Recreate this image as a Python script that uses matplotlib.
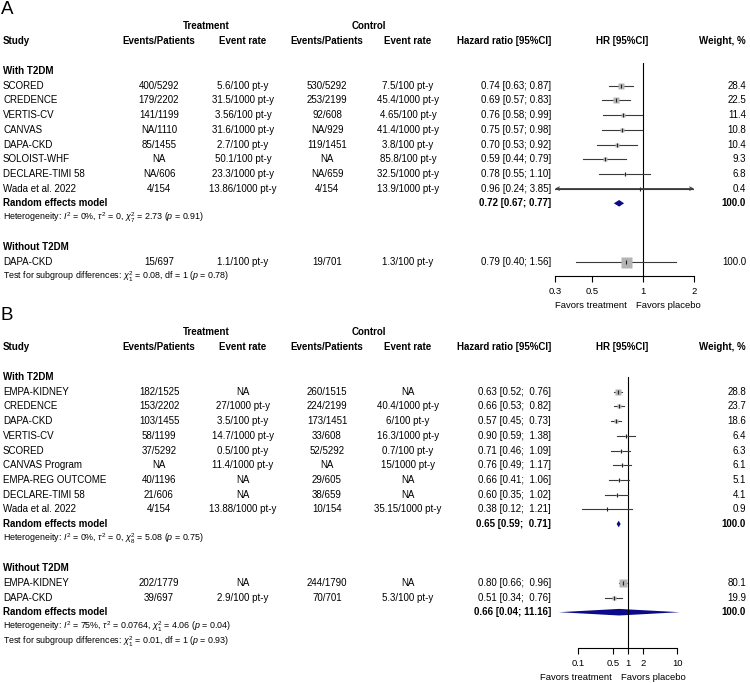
import numpy as np
import matplotlib
matplotlib.use("Agg")
import matplotlib.pyplot as plt
from matplotlib.ticker import NullLocator

plt.rcParams["font.family"] = ["Liberation Sans", "DejaVu Sans"]
plt.rcParams["mathtext.fontset"] = "custom"
plt.rcParams["mathtext.rm"] = "Liberation Sans"
plt.rcParams["mathtext.it"] = "Liberation Sans:italic"
plt.rcParams["mathtext.bf"] = "Liberation Sans:bold"

W, H = 750, 683

# ---- panel A : with T2DM ----
a1_study = ["SCORED", "CREDENCE", "VERTIS-CV", "CANVAS", "DAPA-CKD",
            "SOLOIST-WHF", "DECLARE-TIMI 58", "Wada et al. 2022"]
a1_trt_ep = ["400/5292", "179/2202", "141/1199", "NA/1110", "85/1455", "NA", "NA/606", "4/154"]
a1_trt_rate = ["5.6/100 pt-y", "31.5/1000 pt-y", "3.56/100 pt-y", "31.6/1000 pt-y",
               "2.7/100 pt-y", "50.1/100 pt-y", "23.3/1000 pt-y", "13.86/1000 pt-y"]
a1_ctl_ep = ["530/5292", "253/2199", "92/608", "NA/929", "119/1451", "NA", "NA/659", "4/154"]
a1_ctl_rate = ["7.5/100 pt-y", "45.4/1000 pt-y", "4.65/100 pt-y", "41.4/1000 pt-y",
               "3.8/100 pt-y", "85.8/100 pt-y", "32.5/1000 pt-y", "13.9/1000 pt-y"]
a1_hr = [0.74, 0.69, 0.76, 0.75, 0.70, 0.59, 0.78, 0.96]
a1_lo = [0.63, 0.57, 0.58, 0.57, 0.53, 0.44, 0.55, 0.24]
a1_hi = [0.87, 0.83, 0.99, 0.98, 0.92, 0.79, 1.10, 3.85]
a1_wt = [28.4, 22.5, 11.4, 10.8, 10.4, 9.3, 6.8, 0.4]
a1_pool = (0.72, 0.67, 0.77)
a1_het = r"Heterogeneity: $I^2$ = 0%, $\tau^2$ = 0, $\chi^2_7$ = 2.73 ($p$ = 0.91)"

# ---- panel A : without T2DM ----
a2_study = ["DAPA-CKD"]
a2_trt_ep = ["15/697"]
a2_trt_rate = ["1.1/100 pt-y"]
a2_ctl_ep = ["19/701"]
a2_ctl_rate = ["1.3/100 pt-y"]
a2_hr = [0.79]
a2_lo = [0.40]
a2_hi = [1.56]
a2_wt = [100.0]
a_test = r"Test for subgroup differences: $\chi^2_1$ = 0.08, df = 1 ($p$ = 0.78)"
a_ticks = [0.3, 0.5, 1, 2]
a_ticklabels = ["0.3", "0.5", "1", "2"]

# ---- panel B : with T2DM ----
b1_study = ["EMPA-KIDNEY", "CREDENCE", "DAPA-CKD", "VERTIS-CV", "SCORED",
            "CANVAS Program", "EMPA-REG OUTCOME", "DECLARE-TIMI 58", "Wada et al. 2022"]
b1_trt_ep = ["182/1525", "153/2202", "103/1455", "58/1199", "37/5292", "NA", "40/1196", "21/606", "4/154"]
b1_trt_rate = ["NA", "27/1000 pt-y", "3.5/100 pt-y", "14.7/1000 pt-y", "0.5/100 pt-y",
               "11.4/1000 pt-y", "NA", "NA", "13.88/1000 pt-y"]
b1_ctl_ep = ["260/1515", "224/2199", "173/1451", "33/608", "52/5292", "NA", "29/605", "38/659", "10/154"]
b1_ctl_rate = ["NA", "40.4/1000 pt-y", "6/100 pt-y", "16.3/1000 pt-y", "0.7/100 pt-y",
               "15/1000 pt-y", "NA", "NA", "35.15/1000 pt-y"]
b1_hr = [0.63, 0.66, 0.57, 0.90, 0.71, 0.76, 0.66, 0.60, 0.38]
b1_lo = [0.52, 0.53, 0.45, 0.59, 0.46, 0.49, 0.41, 0.35, 0.12]
b1_hi = [0.76, 0.82, 0.73, 1.38, 1.09, 1.17, 1.06, 1.02, 1.21]
b1_wt = [28.8, 23.7, 18.6, 6.4, 6.3, 6.1, 5.1, 4.1, 0.9]
b1_pool = (0.65, 0.59, 0.71)
b1_het = r"Heterogeneity: $I^2$ = 0%, $\tau^2$ = 0, $\chi^2_8$ = 5.08 ($p$ = 0.75)"

# ---- panel B : without T2DM ----
b2_study = ["EMPA-KIDNEY", "DAPA-CKD"]
b2_trt_ep = ["202/1779", "39/697"]
b2_trt_rate = ["NA", "2.9/100 pt-y"]
b2_ctl_ep = ["244/1790", "70/701"]
b2_ctl_rate = ["NA", "5.3/100 pt-y"]
b2_hr = [0.80, 0.51]
b2_lo = [0.66, 0.34]
b2_hi = [0.96, 0.76]
b2_wt = [80.1, 19.9]
b2_pool = (0.66, 0.04, 11.16)
b2_het = r"Heterogeneity: $I^2$ = 75%, $\tau^2$ = 0.0764, $\chi^2_1$ = 4.06 ($p$ = 0.04)"
b_test = r"Test for subgroup differences: $\chi^2_1$ = 0.01, df = 1 ($p$ = 0.93)"
b_ticks = [0.1, 0.5, 1, 2, 10]
b_ticklabels = ["0.1", "0.5", "1", "2", "10"]

# layout (pixels)
X_STUDY, X_TRT_EP, X_TRT_RATE, X_CTL_EP, X_CTL_RATE = 3, 159, 243, 327, 408
X_HR, X_FOREST, X_WT = 551, 622, 746
X_TRT_GRP, X_CTL_GRP = 206, 369
STEP = 14.7
FS, FS_SMALL = 7.0, 6.4
NAVY = "#0b0b8a"

fig = plt.figure(figsize=(W / 100, H / 100), dpi=100)
ax = fig.add_axes([0, 0, 1, 1])
ax.set_xlim(0, W)
ax.set_ylim(H, 0)
ax.axis("off")


def forest_axes(x0, x1, y0, y1, xlim, ticks, labels):
    f = fig.add_axes([x0 / W, 1 - y1 / H, (x1 - x0) / W, (y1 - y0) / H])
    f.set_xscale("log")
    f.set_xlim(*xlim)
    f.set_ylim(y1, y0)
    f.patch.set_alpha(0)
    for s in ["top", "left", "right"]:
        f.spines[s].set_visible(False)
    f.spines["bottom"].set_bounds(ticks[0], ticks[-1])
    f.spines["bottom"].set_linewidth(0.8)
    f.set_xticks(ticks)
    f.set_xticklabels(labels)
    f.xaxis.set_minor_locator(NullLocator())
    f.tick_params(axis="x", length=4.5, width=0.8, pad=3.5, labelsize=6.8)
    f.set_yticks([])
    f.axvline(1, color="black", lw=0.8)
    return f


def study_rows(f, y, study, tep, trate, cep, crate, hr, lo, hi, wt, box, wide):
    for i in range(len(study)):
        yy = y + i * STEP
        ax.text(X_STUDY, yy, study[i], fontsize=FS, va="center")
        ax.text(X_TRT_EP, yy, tep[i], fontsize=FS, va="center", ha="center")
        ax.text(X_TRT_RATE, yy, trate[i], fontsize=FS, va="center", ha="center")
        ax.text(X_CTL_EP, yy, cep[i], fontsize=FS, va="center", ha="center")
        ax.text(X_CTL_RATE, yy, crate[i], fontsize=FS, va="center", ha="center")
        hi_s = f"{hi[i]:5.2f}" if wide else f"{hi[i]:.2f}"
        ax.text(X_HR, yy, f"{hr[i]:.2f} [{lo[i]:.2f}; {hi_s}]",
                fontsize=FS, va="center", ha="right")
        ax.text(X_WT, yy, f"{wt[i]:.1f}", fontsize=FS, va="center", ha="right")
        xl, xr = f.get_xlim()
        l, r = max(lo[i], xl), min(hi[i], xr)
        f.plot([l, r], [yy, yy], color="#3a3a3a", lw=0.8)
        for end, edge in [(lo[i] < xl, xl), (hi[i] > xr, xr)]:
            if end:
                f.annotate("", xy=(edge, yy), xytext=(hr[i], yy),
                           arrowprops=dict(arrowstyle="->", color="#3a3a3a", lw=0.7,
                                           mutation_scale=6, shrinkA=0, shrinkB=0))
        side = box * np.sqrt(wt[i] / 100.0)
        f.plot(hr[i], yy, marker="s", ms=side * 0.72, color="#b4b4b4", mec="none")
        f.plot(hr[i], yy, marker="|", ms=3.0, color="#222222", mew=0.8)
    return y + len(study) * STEP


def pooled(f, yy, est, lo, hi, wide):
    hi_s = f"{hi:5.2f}" if wide else f"{hi:.2f}"
    ax.text(X_STUDY, yy, "Random effects model", fontsize=FS, va="center", weight="bold")
    ax.text(X_HR, yy, f"{est:.2f} [{lo:.2f}; {hi_s}]", fontsize=FS, va="center",
            ha="right", weight="bold")
    ax.text(X_WT, yy, "100.0", fontsize=FS, va="center", ha="right", weight="bold")
    h = 3.3
    f.fill([lo, est, hi, est], [yy, yy - h, yy, yy + h], color=NAVY, lw=0)


def headers(top, letter):
    ax.text(1, top, letter, fontsize=13.5, va="center")
    yg = top + 16
    ax.text(X_TRT_GRP, yg, "Treatment", fontsize=FS, va="center", ha="center", weight="bold")
    ax.text(X_CTL_GRP, yg, "Control", fontsize=FS, va="center", ha="center", weight="bold")
    yh = yg + 15
    ax.text(X_STUDY, yh, "Study", fontsize=FS, va="center", weight="bold")
    for x, t in [(X_TRT_EP, "Events/Patients"), (X_TRT_RATE, "Event rate"),
                 (X_CTL_EP, "Events/Patients"), (X_CTL_RATE, "Event rate"),
                 (X_FOREST, "HR [95%CI]")]:
        ax.text(x, yh, t, fontsize=FS, va="center", ha="center", weight="bold")
    ax.text(X_HR, yh, "Hazard ratio [95%CI]", fontsize=FS, va="center", ha="right", weight="bold")
    ax.text(X_WT, yh, "Weight, %", fontsize=FS, va="center", ha="right", weight="bold")
    return yh


def favors(y, xline):
    ax.text(xline - 16, y, "Favors treatment", fontsize=6.8, va="center", ha="right")
    ax.text(xline - 7, y, "Favors placebo", fontsize=6.8, va="center", ha="left")


# ---------------- Panel A ----------------
yh = headers(10, "A")
fa = forest_axes(555, 694, 63, 276, (0.3, 2), a_ticks, a_ticklabels)
y = yh + 30
ax.text(X_STUDY, y, "With T2DM", fontsize=FS, va="center", weight="bold")
y = study_rows(fa, y + STEP, a1_study, a1_trt_ep, a1_trt_rate, a1_ctl_ep, a1_ctl_rate,
               a1_hr, a1_lo, a1_hi, a1_wt, 11, False)
pooled(fa, y, *a1_pool, False)
ax.text(X_STUDY, y + STEP, a1_het, fontsize=FS_SMALL, va="center")
y = y + 3 * STEP
ax.text(X_STUDY, y, "Without T2DM", fontsize=FS, va="center", weight="bold")
y = study_rows(fa, y + STEP, a2_study, a2_trt_ep, a2_trt_rate, a2_ctl_ep, a2_ctl_rate,
               a2_hr, a2_lo, a2_hi, a2_wt, 11, False)
ax.text(X_STUDY, y, a_test, fontsize=FS_SMALL, va="center")
favors(306, 643)

# ---------------- Panel B ----------------
yh = headers(316, "B")
fb = forest_axes(552.6, 686.2, 377, 648, (0.03, 15), b_ticks, b_ticklabels)
y = yh + 30
ax.text(X_STUDY, y, "With T2DM", fontsize=FS, va="center", weight="bold")
y = study_rows(fb, y + STEP, b1_study, b1_trt_ep, b1_trt_rate, b1_ctl_ep, b1_ctl_rate,
               b1_hr, b1_lo, b1_hi, b1_wt, 9.5, True)
pooled(fb, y, *b1_pool, True)
ax.text(X_STUDY, y + STEP, b1_het, fontsize=FS_SMALL, va="center")
y = y + 3 * STEP
ax.text(X_STUDY, y, "Without T2DM", fontsize=FS, va="center", weight="bold")
y = study_rows(fb, y + STEP, b2_study, b2_trt_ep, b2_trt_rate, b2_ctl_ep, b2_ctl_rate,
               b2_hr, b2_lo, b2_hi, b2_wt, 9.5, True)
pooled(fb, y, *b2_pool, True)
ax.text(X_STUDY, y + STEP, b2_het, fontsize=FS_SMALL, va="center")
ax.text(X_STUDY, y + 2 * STEP, b_test, fontsize=FS_SMALL, va="center")
favors(677, 628)

fig.savefig("out.png", dpi=100)
